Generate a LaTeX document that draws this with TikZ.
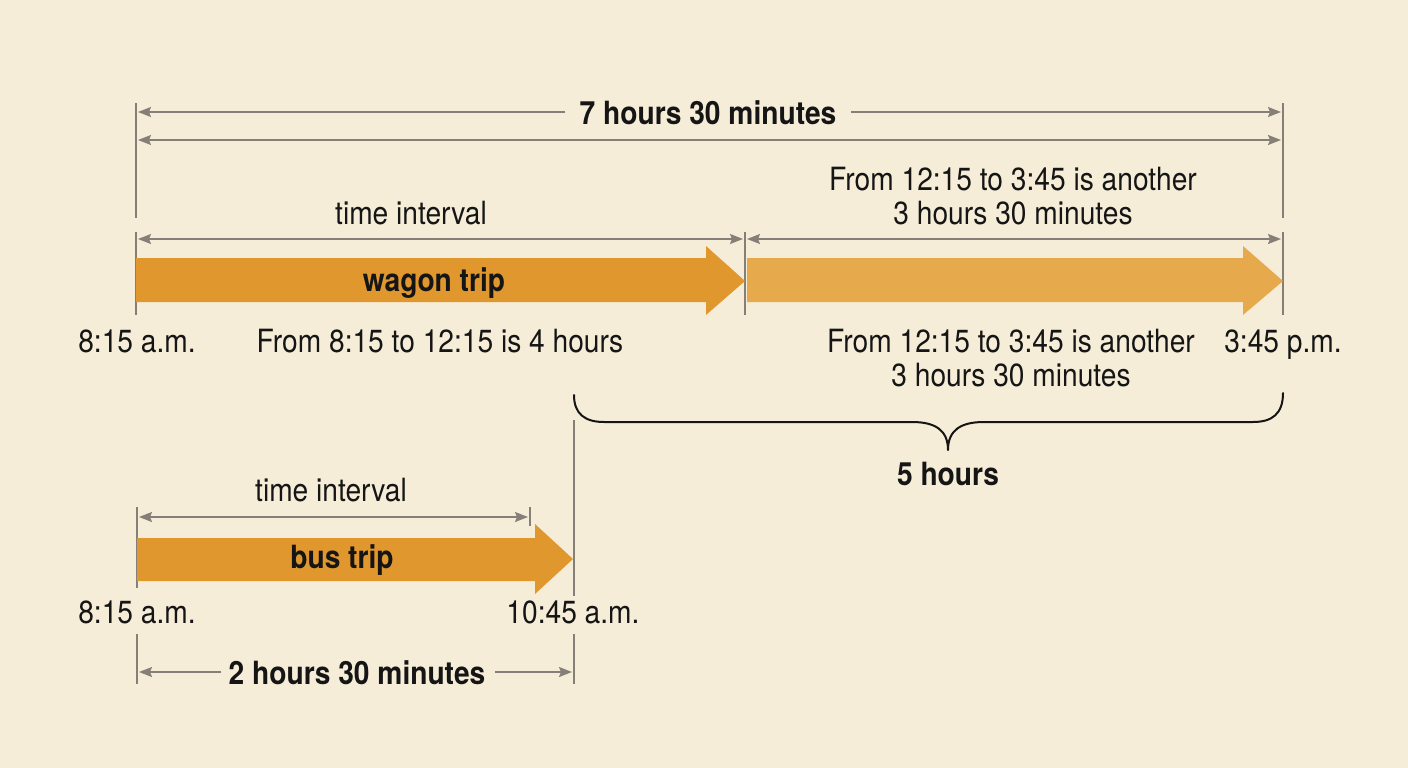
\documentclass[tikz,border=0pt]{standalone}
\usepackage{fontspec}
\setmainfont{TeX Gyre Heros}[FakeStretch=0.88]
\usetikzlibrary{arrows.meta}
\definecolor{bg}{HTML}{F6EDD8}
\definecolor{wagon}{HTML}{E0972E}
\definecolor{wagonlight}{HTML}{E6AA4C}
\definecolor{dimgrey}{HTML}{857F77}
\definecolor{ink}{HTML}{151515}
\tikzset{
  dimline/.style={draw=dimgrey, line width=1.6pt},
  dimarrows/.style={dimline, {Stealth[length=13pt,width=10pt,inset=2pt]}-{Stealth[length=13pt,width=10pt,inset=2pt]}},
  dimto/.style={dimline, -{Stealth[length=13pt,width=10pt,inset=2pt]}},
  tickline/.style={draw=dimgrey, line width=1.4pt},
  lbl/.style={font=\fontsize{32}{34}\selectfont, text=ink, inner sep=0pt},
  blbl/.style={font=\fontsize{32}{34}\selectfont\bfseries, text=ink, inner sep=0pt},
  bracestyle/.style={draw=ink, line width=2pt, line cap=round, line join=round}
}
\begin{document}
\begin{tikzpicture}[x=1pt,y=-1pt]
\fill[bg] (0,0) rectangle (1408,768);
\useasboundingbox (0,0) rectangle (1408,768);

% ---------- coordinates ----------
\coordinate (L1a) at (136,103); \coordinate (L1b) at (136,218);
\coordinate (L2a) at (136,232); \coordinate (L2b) at (136,315);
\coordinate (M2a) at (745,232); \coordinate (M2b) at (745,315);
\coordinate (R1a) at (1283,103); \coordinate (R1b) at (1283,218);
\coordinate (R2a) at (1283,232); \coordinate (R2b) at (1283,315);

% ticks
\draw[tickline] (L1a) -- (L1b);
\draw[tickline] (L2a) -- (L2b);
\draw[tickline] (M2a) -- (M2b);
\draw[tickline] (R1a) -- (R1b);
\draw[tickline] (R2a) -- (R2b);

% ---------- big arrows ----------
\fill[wagon] (136,258) -- (706,258) -- (706,246) -- (745,281) -- (706,315) -- (706,302) -- (136,302) -- cycle;
\fill[wagonlight] (747,258) -- (1243,258) -- (1243,246) -- (1283,281) -- (1243,315) -- (1243,302) -- (747,302) -- cycle;

% ---------- top total ----------
\node[blbl, anchor=base] (total) at (708,124) {7 hours 30 minutes};
\coordinate (t1l) at (138,112); \coordinate (t1r) at (1281,112);
\coordinate (t1lend) at (565,112); \coordinate (t1rend) at (851,112);
\draw[dimto] (t1lend) -- (t1l);
\draw[dimto] (t1rend) -- (t1r);
\coordinate (t2l) at (138,140); \coordinate (t2r) at (1281,140);
\draw[dimarrows] (t2l) -- (t2r);

% ---------- interval labels ----------
\node[lbl, anchor=base] (ti1) at (411,224) {time interval};
\coordinate (i1l) at (138,239); \coordinate (i1r) at (743,239);
\draw[dimarrows] (i1l) -- (i1r);
\node[lbl, align=center] (another1) at (1013,196) {From 12:15 to 3:45 is another\\3 hours 30 minutes};
\coordinate (i2l) at (747,239); \coordinate (i2r) at (1281,239);
\draw[dimarrows] (i2l) -- (i2r);

\node[blbl, anchor=base] (wagonlbl) at (434,291) {wagon trip};

% ---------- row labels ----------
\node[lbl, anchor=base] (start1) at (137,352) {8:15 a.m.};
\node[lbl, anchor=base] (four) at (440,352) {From 8:15 to 12:15 is 4 hours};
\node[lbl, align=center] (another2) at (1011,358) {From 12:15 to 3:45 is another\\3 hours 30 minutes};
\node[lbl, anchor=base] (end1) at (1283,352) {3:45 p.m.};

% ---------- brace ----------
\draw[bracestyle] (574,395) .. controls (574,414) and (585,422) .. (604,422) -- (912,422)
  .. controls (935,422) and (948,430) .. (948,450)
  .. controls (948,430) and (961,422) .. (984,422) -- (1253,422)
  .. controls (1272,422) and (1283,414) .. (1283,393);
\node[blbl, anchor=base] (five) at (948,485) {5 hours};

% vertical guide at 10:45
\coordinate (va) at (574,420); \coordinate (vb) at (574,596);
\draw[tickline] (va) -- (vb);

% ---------- bus ----------
\node[lbl, anchor=base] (ti2) at (331,501) {time interval};
\coordinate (B1a) at (137,507); \coordinate (B1b) at (137,588);
\coordinate (B2a) at (530,507); \coordinate (B2b) at (530,526);
\draw[tickline] (B1a) -- (B1b);
\draw[tickline] (B2a) -- (B2b);
\coordinate (bl) at (139,517); \coordinate (br) at (528,517);
\draw[dimarrows] (bl) -- (br);

\fill[wagon] (137,538) -- (535,538) -- (535,524) -- (573,559) -- (535,594) -- (535,581) -- (137,581) -- cycle;
\node[blbl, anchor=base] (buslbl) at (342,568) {bus trip};

\node[lbl, anchor=base] (start2) at (137,623) {8:15 a.m.};
\node[lbl, anchor=base] (end2) at (573,623) {10:45 a.m.};

\coordinate (C1a) at (137,634); \coordinate (C1b) at (137,684);
\coordinate (C2a) at (574,634); \coordinate (C2b) at (574,684);
\draw[tickline] (C1a) -- (C1b);
\draw[tickline] (C2a) -- (C2b);
\node[blbl, anchor=base] (twohalf) at (357,684) {2 hours 30 minutes};
\coordinate (c1l) at (139,672); \coordinate (c1le) at (221,672);
\coordinate (c1r) at (572,672); \coordinate (c1re) at (495,672);
\draw[dimto] (c1le) -- (c1l);
\draw[dimto] (c1re) -- (c1r);
\end{tikzpicture}
\end{document}
